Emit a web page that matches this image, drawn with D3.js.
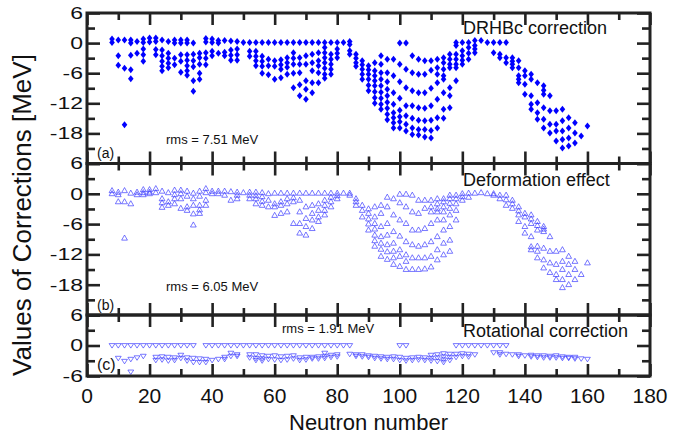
<!DOCTYPE html>
<html>
<head>
<meta charset="utf-8">
<script src="https://cdn.jsdelivr.net/npm/d3@7"></script>
<style>
  body { margin: 0; background: #fff; }
  svg text { font-family: "Liberation Sans", Arial, Helvetica, sans-serif; fill: #111; }
</style>
</head>
<body>
<div id="chart"></div>
<script>
// even neutron numbers, one column of nuclei each
const neutronNumber = [8, 10, 12, 14, 16, 18, 20, 22, 24, 26, 28, 30, 32, 34, 36, 38, 40, 42, 44, 46,
  48, 50, 52, 54, 56, 58, 60, 62, 64, 66, 68, 70, 72, 74, 76, 78, 80, 82, 84, 86, 88, 90, 92, 94,
  96, 98, 100, 102, 104, 106, 108, 110, 112, 114, 116, 118, 120, 122, 124, 126, 128, 130, 132,
  134, 136, 138, 140, 142, 144, 146, 148, 150, 152, 154, 156, 158, 160];

// (a) DRHBc correction [MeV], one list per neutron number
const drhbcCorr = [
  [0.8, 0.1], [0.6, -2.5, -4.4], [0.6, -5.0, -16.3], [0.6, 0.0, -2.4, -5.3, -7.1],
  [0.3, -2.0], [0.8, 0.1, -1.2, -2.3, -3.6], [1.0, 0.2], [1.0, 0.3, -1.3, -2.3],
  [0.6, -1.4, -2.5, -3.6, -4.6, -5.5], [0.3, -2.0, -3.0, -4.0, -4.9], [0.6, 0.0, -3.0, -4.3], [0.6, 0.0, -2.3, -3.6, -5.8],
  [0.6, 0.0, -2.3, -3.4, -4.5, -5.5, -6.4], [0.0, -2.2, -3.5, -4.7, -7.5, -9.6], [-2.0, -2.9, -4.2, -6.0, -7.2], [0.9, 0.2, -1.9, -3.0, -4.3],
  [0.8, 0.1, -1.6, -2.5], [0.5, 0.0, -2.0], [0.5, -1.8, -2.5], [0.4, -1.4, -2.4, -3.4],
  [0.3, -1.2, -2.3, -3.4], [0.1], [0.1, -1.6, -2.6], [0.1, -1.6, -2.6, -3.5, -4.5],
  [0.1, -2.6, -3.6, -4.6, -6.0], [0.1, -3.2, -4.5, -6.3], [0.1, -3.5, -4.6, -7.2], [0.1, -3.3, -4.3, -5.2, -6.9],
  [0.1, -2.9, -3.9, -4.8, -6.2], [0.1, -1.9, -3.0, -4.2, -6.0, -8.9], [0.1, -2.9, -4.2, -5.9, -8.3, -10.5], [0.1, -2.5, -4.2, -7.5, -9.2, -11.2],
  [0.1, -2.2, -3.9, -5.5, -7.9, -9.9], [0.1, -1.9, -3.5, -4.5, -5.9, -7.9], [0.1, -0.9, -1.9, -2.9, -3.9, -5.0, -6.2, -7.0], [0.1, -2.2, -3.2, -4.2, -5.2, -6.2],
  [0.1, -1.2, -2.0, -2.9], [0.1], [0.3, -0.3, -1.5, -2.2], [-2.2, -3.0, -3.9, -4.6],
  [-3.5, -4.3, -5.2, -6.2, -7.2], [-4.5, -5.3, -6.2, -7.2, -8.4, -9.5], [-3.9, -5.5, -6.5, -7.5, -8.5, -9.7, -10.9, -12.0], [-2.5, -4.2, -5.9, -7.2, -8.5, -9.8, -11.0, -12.2, -13.2],
  [-3.2, -5.9, -7.7, -9.2, -10.5, -11.8, -13.0, -14.2, -15.3], [-3.2, -6.5, -9.9, -12.2, -13.9, -14.9, -15.9, -16.9], [0.0, -4.2, -7.7, -11.0, -13.4, -14.7, -15.7, -16.9], [0.0, -5.2, -8.9, -12.5, -14.5, -16.2, -17.5],
  [-2.5, -5.9, -9.5, -12.5, -15.0, -16.9, -18.2], [-3.2, -6.2, -9.9, -12.9, -15.4, -17.2, -18.3], [-3.5, -6.2, -9.9, -13.0, -15.5, -17.2, -18.7], [-3.5, -5.4, -9.0, -12.5, -15.4, -17.4, -18.9],
  [-3.2, -4.9, -6.2, -7.9, -11.2, -14.9, -16.9], [-2.9, -3.9, -5.2, -6.5, -7.2, -9.9, -13.2, -15.0], [-2.2, -3.2, -4.2, -4.9, -8.9, -10.5, -12.9], [0.1, -0.5, -2.2, -3.2, -4.2, -4.9, -7.5],
  [0.1, -1.5, -2.5, -3.4, -4.2], [0.1, -0.9, -2.0, -3.2], [0.5, -0.5, -1.2, -1.9], [0.5],
  [0.1], [0.1, -1.9], [0.1, -2.2, -2.9], [0.1, -2.9, -3.9],
  [-2.9, -3.6, -4.2, -4.9], [-3.5, -4.9, -6.5, -7.2, -7.9], [-5.5, -6.5, -8.2, -10.2], [-6.2, -7.2, -10.5, -12.2, -13.2],
  [-7.9, -11.9, -13.9, -15.2], [-8.5, -9.4, -10.2, -12.9, -15.2, -16.9], [-10.5, -13.5, -16.2, -17.9], [-13.5, -16.2, -17.5, -19.5],
  [-13.2, -15.5, -17.5, -19.2, -20.9], [-14.9, -16.9, -18.9, -20.5], [-15.9, -17.9, -19.9], [-18.5],
  [-16.5]
];

// (b) deformation effect [MeV]
const deformCorr = [
  [0.6, 0.0], [0.3, -0.2, -1.6], [0.6, -1.6, -8.8], [0.1, -2.0],
  [0.3, -0.2], [0.8, 0.2, -0.2], [0.8, 0.3, 0.0], [1.0, 0.2],
  [0.5, -1.0, -1.8, -2.7], [0.2, -1.6, -2.3], [0.7, -0.2, -1.0, -2.0], [0.7, 0.0, -1.0, -2.9],
  [0.5, -0.5, -2.6, -3.3], [0.1, -1.0, -2.3, -4.0, -6.2], [0.5, -0.5, -2.3, -3.2, -3.9], [1.0, 0.2, -1.3, -2.3],
  [0.5, 0.0], [0.5, 0.0], [0.5, -0.3], [0.4, -1.3],
  [0.3, -0.3, -1.0], [0.2], [0.3, -0.3, -1.0], [0.3, -0.4, -1.0, -2.0],
  [0.2, -0.6, -1.5, -2.3], [0.0, -1.3, -2.6], [0.1, -2.0, -2.6, -4.3], [0.1, -1.6, -2.3, -3.9],
  [0.1, -1.0, -2.0, -3.6], [0.1, -0.8, -1.6, -5.9], [0.1, -1.3, -3.6, -5.9, -7.8], [0.1, -2.6, -4.9, -6.5, -8.2],
  [0.1, -2.3, -3.9, -5.2, -6.9], [0.1, -2.0, -3.3, -4.6, -5.5], [0.1, -1.3, -2.3, -3.3, -4.2], [0.1, -0.7, -1.6, -2.6],
  [0.1, -0.4, -1.0], [0.1], [0.1, -0.3], [-1.0, -1.6, -2.3],
  [-2.3, -3.3, -4.6], [-3.0, -3.9, -5.0, -6.0, -7.2], [-2.6, -4.6, -5.9, -7.0, -8.2, -9.3, -10.4], [-2.3, -3.9, -6.5, -8.5, -9.8, -11.0, -12.4],
  [-0.7, -2.6, -5.9, -8.2, -10.1, -11.5, -13.0], [-1.0, -4.2, -7.5, -9.8, -11.4, -12.7, -14.0], [-0.1, -1.8, -5.2, -8.4, -11.1, -12.4, -14.4], [-0.1, -2.6, -5.9, -9.5, -12.1, -13.4, -15.0],
  [-0.3, -3.6, -7.2, -10.1, -12.7, -15.0], [-1.3, -3.9, -7.2, -10.4, -12.7, -15.0], [-1.3, -2.9, -6.9, -10.1, -12.7, -14.9], [-1.3, -2.6, -3.6, -5.9, -9.5, -12.4, -14.5],
  [-1.0, -2.0, -3.0, -3.6, -5.2, -8.5, -11.1, -13.1], [-1.0, -1.6, -2.6, -3.6, -5.2, -7.2, -9.8, -12.1], [-0.3, -1.0, -1.9, -2.9, -4.2, -6.5, -9.2, -11.4], [-0.3, -1.0, -2.0, -3.3, -5.2],
  [0.0, -0.6, -1.3], [0.1, -0.7], [0.1], [0.2],
  [0.0], [0.0, -0.3], [-0.3, -1.0], [-0.3, -1.2, -2.3],
  [-1.3, -2.0, -2.9], [-2.6, -3.4, -4.2, -5.5], [-3.9, -4.6, -6.5, -7.8], [-4.2, -5.0, -5.9, -8.5, -10.5, -11.1],
  [-5.5, -6.3, -7.2, -10.4, -11.4, -12.7], [-6.5, -7.0, -7.5, -10.8, -13.1, -14.7], [-8.5, -11.4, -13.7, -15.6], [-11.4, -14.0, -16.0, -17.0],
  [-11.1, -13.4, -15.0, -17.0, -18.6], [-12.4, -14.0, -16.0, -18.0], [-13.4, -15.0, -17.0], [-16.0],
  [-13.7]
];

// (c) rotational correction [MeV]
const rotCorr = [
  [0.0], [0.0, -2.5], [0.0, -3.1], [0.0, -2.7, -5.2],
  [0.0, -2.4], [0.0, -2.1], [0.0], [0.0, -2.3, -2.9],
  [0.0, -2.2, -2.8], [0.0, -2.3, -3.0], [0.0, -2.4, -2.9], [0.0, -1.9, -2.5],
  [0.0, -2.4, -3.0], [0.0, -2.5, -3.3], [-2.6, -3.3], [0.0, -2.7, -3.3],
  [0.0, -2.9], [0.0, -2.7], [0.0, -2.3, -2.7], [0.0, -1.5, -2.1],
  [0.0, -1.8, -2.1], [0.0], [0.0, -1.8, -2.4], [0.0, -1.8, -2.5, -2.9],
  [0.0, -2.0, -2.6, -3.0], [0.0, -2.1, -2.7], [0.0, -2.0, -2.8], [0.0, -2.2, -2.9],
  [0.0, -2.1, -2.8], [0.0, -2.0, -2.6], [0.0, -2.4, -2.9], [0.0, -2.3, -2.8],
  [0.0, -2.3, -2.6], [0.0, -2.2, -2.6], [0.0, -1.5, -2.1, -2.5], [0.0, -1.9, -2.3],
  [0.0, -1.8, -2.2], [0.0], [0.0, -1.7], [-1.8, -2.1],
  [-1.8, -2.2], [-2.0, -2.3], [-2.1, -2.5], [-2.2, -2.6],
  [-2.3, -2.7], [-2.2, -2.7], [0.0, -2.3, -2.9], [0.0, -2.5, -3.0],
  [-2.4, -2.9], [-2.3, -2.8], [-2.4, -2.9], [-1.9, -2.5, -3.0],
  [-1.8, -2.4, -3.1], [-1.6, -2.2, -2.8, -3.3], [-1.7, -2.3, -2.9], [0.0, -1.7, -2.3],
  [0.0, -1.6, -2.1], [0.0, -1.7, -2.2], [0.0, -1.8], [0.0],
  [0.0], [0.0, -1.4], [0.0, -1.4, -1.8], [0.0, -1.7],
  [-1.8], [-1.8, -2.1], [-2.0], [-1.9, -2.2],
  [-2.0, -2.3], [-2.0, -2.4], [-2.1, -2.4], [-2.0, -2.4],
  [-2.2, -2.5], [-2.3, -2.5], [-2.3, -2.6], [-2.6],
  [-2.7]
];

// tick values
const xMajor = [0, 20, 40, 60, 80, 100, 120, 140, 160, 180];
const xMinor = [10, 30, 50, 70, 90, 110, 130, 150, 170];
const yLabelsBig = [6, 0, -6, -12, -18];
const yLabelsSmall = [6, 0, -6];

const W = 696, H = 436;
const LEFT = 87, RIGHT = 650;
const INK = "#222";

const svg = d3.select("#chart").append("svg").attr("width", W).attr("height", H);
const x = d3.scaleLinear().domain([0, 180]).range([LEFT, RIGHT]);

const panels = [
  { top: 13, bottom: 163.5, domain: [-24, 6], data: drhbcCorr, mark: "diamond",
    yMajor: [6, 0, -6, -12, -18, -24], yMinor: [3, -3, -9, -15, -21], labels: yLabelsBig,
    title: "DRHBc correction", titleY: 34, rms: "rms = 7.51 MeV", rmsX: 166, rmsY: 144, tag: "(a)", tagY: 158, tagSize: 14 },
  { top: 163.5, bottom: 315, domain: [-24, 6], data: deformCorr, mark: "up",
    yMajor: [6, 0, -6, -12, -18, -24], yMinor: [3, -3, -9, -15, -21], labels: yLabelsBig,
    title: "Deformation effect", titleY: 186, rms: "rms = 6.05 MeV", rmsX: 166, rmsY: 291, tag: "(b)", tagY: 310, tagSize: 14 },
  { top: 315, bottom: 376, domain: [-6, 6], data: rotCorr, mark: "down",
    yMajor: [6, 0, -6], yMinor: [3, -3], labels: yLabelsSmall,
    title: "Rotational correction", titleY: 337, rms: "rms = 1.91 MeV", rmsX: 282, rmsY: 333, tag: "(c)", tagY: 370, tagSize: 16 }
];

const shapes = {
  diamond: "M0,-3.5L2.8,0L0,3.5L-2.8,0Z",
  up: "M0,-3.2L2.9,1.9L-2.9,1.9Z",
  down: "M0,2.6L2.9,-1.9L-2.9,-1.9Z"
};

function styleAxis(g) {
  g.select(".domain").remove();
  g.selectAll(".tick line").attr("stroke", INK).attr("stroke-width", 2.6);
  g.selectAll(".tick text").remove();
}

panels.forEach(p => {
  const y = d3.scaleLinear().domain(p.domain).range([p.bottom, p.top]);

  // points
  const pts = neutronNumber.flatMap((n, i) => p.data[i].map(v => ({ n, v })));
  const g = svg.append("g");
  g.selectAll("path").data(pts).join("path")
    .attr("d", shapes[p.mark])
    .attr("transform", d => `translate(${x(d.n)},${y(d.v)})`)
    .attr("fill", p.mark === "diamond" ? "#0000ff" : "none")
    .attr("stroke", p.mark === "diamond" ? "none" : "#3030ff")
    .attr("stroke-opacity", 0.65)
    .attr("stroke-width", 1);

  // inward ticks on all four sides
  svg.append("g").attr("transform", `translate(0,${p.top})`)
    .call(d3.axisBottom(x).tickValues(xMajor).tickSize(12)).call(styleAxis);
  svg.append("g").attr("transform", `translate(0,${p.top})`)
    .call(d3.axisBottom(x).tickValues(xMinor).tickSize(7)).call(styleAxis);
  svg.append("g").attr("transform", `translate(0,${p.bottom})`)
    .call(d3.axisTop(x).tickValues(xMajor).tickSize(12)).call(styleAxis);
  svg.append("g").attr("transform", `translate(0,${p.bottom})`)
    .call(d3.axisTop(x).tickValues(xMinor).tickSize(7)).call(styleAxis);
  svg.append("g").attr("transform", `translate(${LEFT},0)`)
    .call(d3.axisRight(y).tickValues(p.yMajor).tickSize(13)).call(styleAxis);
  svg.append("g").attr("transform", `translate(${LEFT},0)`)
    .call(d3.axisRight(y).tickValues(p.yMinor).tickSize(8)).call(styleAxis);
  svg.append("g").attr("transform", `translate(${RIGHT},0)`)
    .call(d3.axisLeft(y).tickValues(p.yMajor).tickSize(13)).call(styleAxis);
  svg.append("g").attr("transform", `translate(${RIGHT},0)`)
    .call(d3.axisLeft(y).tickValues(p.yMinor).tickSize(8)).call(styleAxis);

  // frame
  svg.append("rect")
    .attr("x", LEFT).attr("y", p.top)
    .attr("width", RIGHT - LEFT).attr("height", p.bottom - p.top)
    .attr("fill", "none").attr("stroke", INK).attr("stroke-width", 3);

  // y tick labels (squashed vertically like the original)
  svg.append("g").selectAll("text").data(p.labels).join("text")
    .attr("transform", d => `translate(83,${y(d)}) scale(1,0.72)`)
    .attr("text-anchor", "end").attr("dy", "0.36em")
    .attr("font-size", 23)
    .text(d => d);

  svg.append("text").attr("x", 463).attr("y", p.titleY)
    .attr("font-size", 18).text(p.title);
  svg.append("text").attr("x", p.rmsX).attr("y", p.rmsY)
    .attr("font-size", 13).text(p.rms);
  svg.append("text").attr("x", 97).attr("y", p.tagY)
    .attr("font-size", p.tagSize).text(p.tag);
});

// x tick labels
svg.append("g").selectAll("text").data(xMajor).join("text")
  .attr("x", d => x(d)).attr("y", 403)
  .attr("text-anchor", "middle").attr("font-size", 21)
  .text(d => d);

svg.append("text").attr("x", (LEFT + RIGHT) / 2).attr("y", 430)
  .attr("text-anchor", "middle").attr("font-size", 22)
  .text("Neutron number");

svg.append("text")
  .attr("transform", `translate(31,215) rotate(-90)`)
  .attr("text-anchor", "middle").attr("font-size", 26)
  .text("Values of Corrections [MeV]");
</script>
</body>
</html>
